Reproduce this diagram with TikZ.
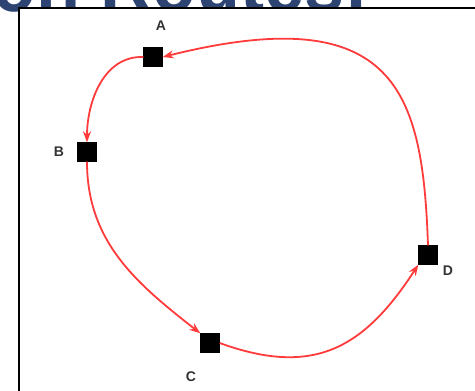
\documentclass[tikz,border=0pt]{standalone}
\usepackage{fontspec}
\setmainfont{Liberation Sans}
\usetikzlibrary{arrows.meta}
\definecolor{routered}{HTML}{FF3B3B}
\definecolor{titleblue}{HTML}{2D4473}
\definecolor{labelgray}{HTML}{333333}

\begin{document}
\begin{tikzpicture}[x=1pt,y=-1pt,
  stop/.style={draw=black,fill=black,minimum size=19pt,inner sep=0pt},
  stoplabel/.style={font=\fontsize{14}{14}\selectfont\bfseries,text=labelgray,inner sep=0pt},
  route/.style={draw=routered,line width=1.8pt,-{Stealth[length=11pt,width=8pt]}}]
  \useasboundingbox (0,0) rectangle (475,391);
  % cut-off heading and frame
  \begin{scope}
    \clip (0,0) rectangle (475,391);
    \node[anchor=base west,inner sep=0pt,text=titleblue,font=\fontsize{80}{80}\selectfont\bfseries,xscale=0.9] (title) at (-8,11) {on Routes:};
    \fill[white] (19,8) rectangle (480,400);
    \draw[line width=2.5pt] (480,8) -- (19,8) -- (19,400);
  \end{scope}

  \node[stop] (A) at (153,57) {};
  \node[stop] (B) at (87,152) {};
  \node[stop] (C) at (210,343) {};
  \node[stop] (D) at (428,255) {};
  \node[stoplabel] (labelA) at (161,26) {A};
  \node[stoplabel] (labelB) at (59,152) {B};
  \node[stoplabel] (labelC) at (191,377) {C};
  \node[stoplabel] (labelD) at (448,271) {D};

  \draw[route] (A.west) to[out=178,in=90] (B.north);
  \draw[route] (B.south) to[out=-90,in=142] (C.north west);
  \draw[route] (C.east) to[out=-20,in=237,looseness=1.2] (D.south west);
  \draw[route] (D.north) to[out=92,in=14,out looseness=1.2,in looseness=1.9] (A.east);
\end{tikzpicture}
\end{document}
